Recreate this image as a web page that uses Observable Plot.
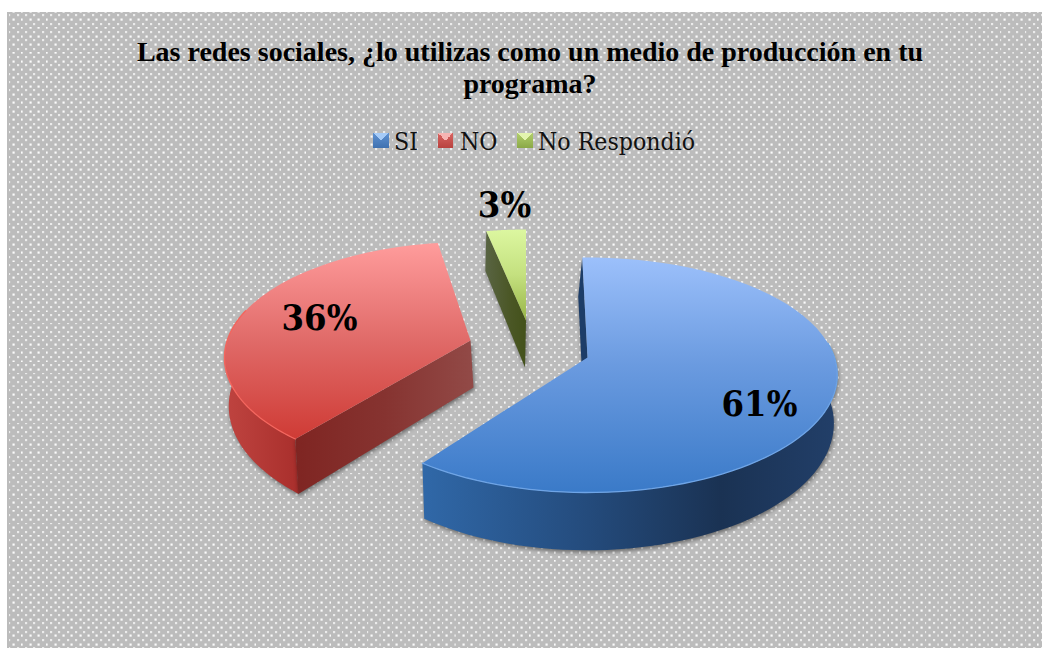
<!DOCTYPE html>
<html><head><meta charset="utf-8">
<script src="https://cdn.jsdelivr.net/npm/d3@7"></script>
<script src="https://cdn.jsdelivr.net/npm/@observablehq/plot@0.6"></script>
<style>
html,body{margin:0;padding:0;background:#fff;width:1042px;height:648px;overflow:hidden}
#chart{position:absolute;left:7px;top:12px;width:1035px;height:636px;background-color:#bcbcbc;
background-image:url("data:image/svg+xml,%3Csvg xmlns='http://www.w3.org/2000/svg' width='25' height='25' viewBox='0 0 25 25'%3E%3Crect x='0' y='0' width='6' height='6' fill='%23fff' fill-opacity='.7'/%3E%3Crect x='12.5' y='12.5' width='6' height='6' fill='%23fff' fill-opacity='.95'/%3E%3C/svg%3E");
background-size:8.333px 8.333px;background-position:1.5px 2.5px}
#title{position:absolute;left:123px;width:800px;top:24px;text-align:center;font:bold 28px/32px "Liberation Serif",serif;color:#000}
#legend{position:absolute;top:0;left:0;font:24.6px "DejaVu Serif Condensed","Liberation Serif",serif;color:#111}
#legend span{position:absolute;top:115px;white-space:nowrap;line-height:30px}
#legend i{position:absolute;top:120.5px;width:15.5px;height:15.5px;display:block}
#plot{position:absolute;left:-7px;top:153px}
</style></head><body>
<div id="chart"><div id="title">Las redes sociales, ¿lo utilizas como un medio de producción en tu<br>programa?</div><div id="legend"></div><div id="plot"></div></div>
<script>
// data
const categories = ["SI", "NO", "No Respondió"];
const shares = [61, 36, 3];

// layout of each exploded wedge (chart units = page pixels)
const apexX = [587, 470, 525.5];
const apexY = [357, 340, 320];
const wedgeScale = [1, 0.985, 0.91];
const wedgeTurn = [-1.4, 0, -0.86];
const wedgeSweep = [0.99, 1.015, 1.08];
const cutShift = [-4, 3, -1];
const labelX = [759, 319, 504];
const labelY = [404, 318, 205];
const legendSwatchX = [366, 430.5, 510];
const legendTextX = [387, 453, 531];
const swatchColors = [["#a6cbf7","#5f92d2","#3f71b0"],["#f6b4b2","#d86461","#b8423f"],["#e2f4ae","#b2cf6c","#8aa847"]];

const A = 247, B = 114.9, P = 0.149, T = 47;
const angles = d3.pie().sort(null)(shares).map(d => [d.startAngle * 180 / Math.PI, d.endAngle * 180 / Math.PI]);
const project = (i, deg) => {
  const a0 = angles[i][0];
  const t = (a0 + (deg - a0) * wedgeSweep[i] + wedgeTurn[i]) * Math.PI / 180;
  const u = Math.sin(t), v = Math.cos(t), d = 1 + P * v;
  const s = wedgeScale[i];
  return [apexX[i] + s * A * u / d, apexY[i] - s * B * v / d];
};
const depth = (i, y) => T * (1 + 0.17 * (y - apexY[i]) / 100);
const lowerOuter = (i, [x, y]) => [x + (566 - x) * 0.0125, y + depth(i, y)];
const lowerCut = (i, [x, y]) => [x + cutShift[i], y + depth(i, y)];
const arc = (i, a0, a1) => d3.range(0, 61).map(k => project(i, a0 + (a1 - a0) * k / 60));

const poly = (id, pts) => pts.map(([x, y]) => ({id, x, y}));
const topFaces = [], walls = [], rims = [];
angles.forEach(([a0, a1], i) => {
  const ap = [apexX[i], apexY[i]];
  topFaces.push(poly(i, [ap, ...arc(i, a0, a1)]));
  const outer = i === 0 ? arc(i, 85, a1) : i === 1 ? arc(i, a0, 285) : [];
  if (outer.length) {
    walls.push(poly(`o${i}`, [...outer, ...outer.map(p => lowerOuter(i, p)).reverse()]));
    rims.push(poly(i, outer));
  }
  const cut = project(i, a0);
  walls.push(poly(`c${i}`, [ap, cut, lowerCut(i, cut), lowerCut(i, ap)]));
});

const fillsTop = ["url(#tb)", "url(#tr)", "url(#tg)"];
const fillsWall = {o0: "url(#wb)", c0: "#1d3d68", o1: "url(#wr)", c1: "url(#cr)", c2: "url(#cg)"};
const rimColors = ["#6ea4e6", "#f4665e"];

const grad = (id, horiz, stops) => `<linearGradient id="${id}" x1="0" y1="0" x2="${horiz ? 1 : 0}" y2="${horiz ? 0 : 1}">` +
  stops.map(([o, c]) => `<stop offset="${o}" stop-color="${c}"/>`).join("") + `</linearGradient>`;
const defs = () => {
  const g = document.createElementNS("http://www.w3.org/2000/svg", "defs");
  g.innerHTML =
    grad("tb", false, [[0, "#9cc0fb"], [.45, "#6b9be0"], [1, "#3a7ac8"]]) +
    grad("tr", false, [[0, "#ff9c9c"], [.5, "#e06a68"], [1, "#cf3b35"]]) +
    grad("tg", false, [[0, "#dcf7a0"], [.5, "#c4e07f"], [1, "#98b548"]]) +
    grad("wb", true, [[0, "#3068a8"], [.4, "#244b7c"], [.72, "#1a3253"], [1, "#223f69"]]) +
    grad("wr", true, [[0, "#bf4440"], [1, "#a92f2c"]]) +
    grad("cr", true, [[0, "#7f2522"], [.5, "#863330"], [1, "#924a47"]]) +
    grad("cg", true, [[0, "#596443"], [.6, "#4b5726"], [1, "#43511a"]]);
  return g;
};

const shadow = (index, scales, values, dims, ctx, next) => {
  const g = next(index, scales, values, dims, ctx);
  g.style.filter = "drop-shadow(1px 2px 2px rgba(0,0,0,.45))";
  return g;
};
const labels = categories.map((c, i) => ({c, x: labelX[i], y: labelY[i], t: `${shares[i]}%`}));

const plot = Plot.plot({
  width: 1042, height: 483, margin: 0,
  style: {background: "transparent", overflow: "visible"},
  x: {domain: [0, 1042], range: [0, 1042], axis: null},
  y: {domain: [165, 648], range: [0, 483], axis: null},
  marks: [
    defs,
    ...walls.map(w => Plot.line(w, {x: "x", y: "y", fill: fillsWall[w[0].id], stroke: "none", render: shadow})),
    ...topFaces.map((f, i) => Plot.line(f, {x: "x", y: "y", fill: fillsTop[i], stroke: "none"})),
    ...rims.map((r, i) => Plot.line(r, {x: "x", y: "y", stroke: rimColors[i], strokeWidth: 1.3})),
    Plot.text(labels, {x: "x", y: "y", text: "t", fontSize: 36, fontWeight: "bold", fontFamily: "DejaVu Serif Condensed, Liberation Serif", fill: "#000"})
  ]
});
document.getElementById("plot").append(plot);

const leg = document.getElementById("legend");
categories.forEach((c, i) => {
  const [hi, mid, lo] = swatchColors[i];
  const sw = document.createElement("i");
  sw.style.left = legendSwatchX[i] + "px";
  sw.style.background = `conic-gradient(from -45deg, ${hi} 0 90deg, transparent 90deg 360deg), linear-gradient(${mid}, ${lo})`;
  leg.append(sw);
  const s = document.createElement("span");
  s.style.left = legendTextX[i] + "px";
  s.textContent = c;
  leg.append(s);
});
</script></body></html>
